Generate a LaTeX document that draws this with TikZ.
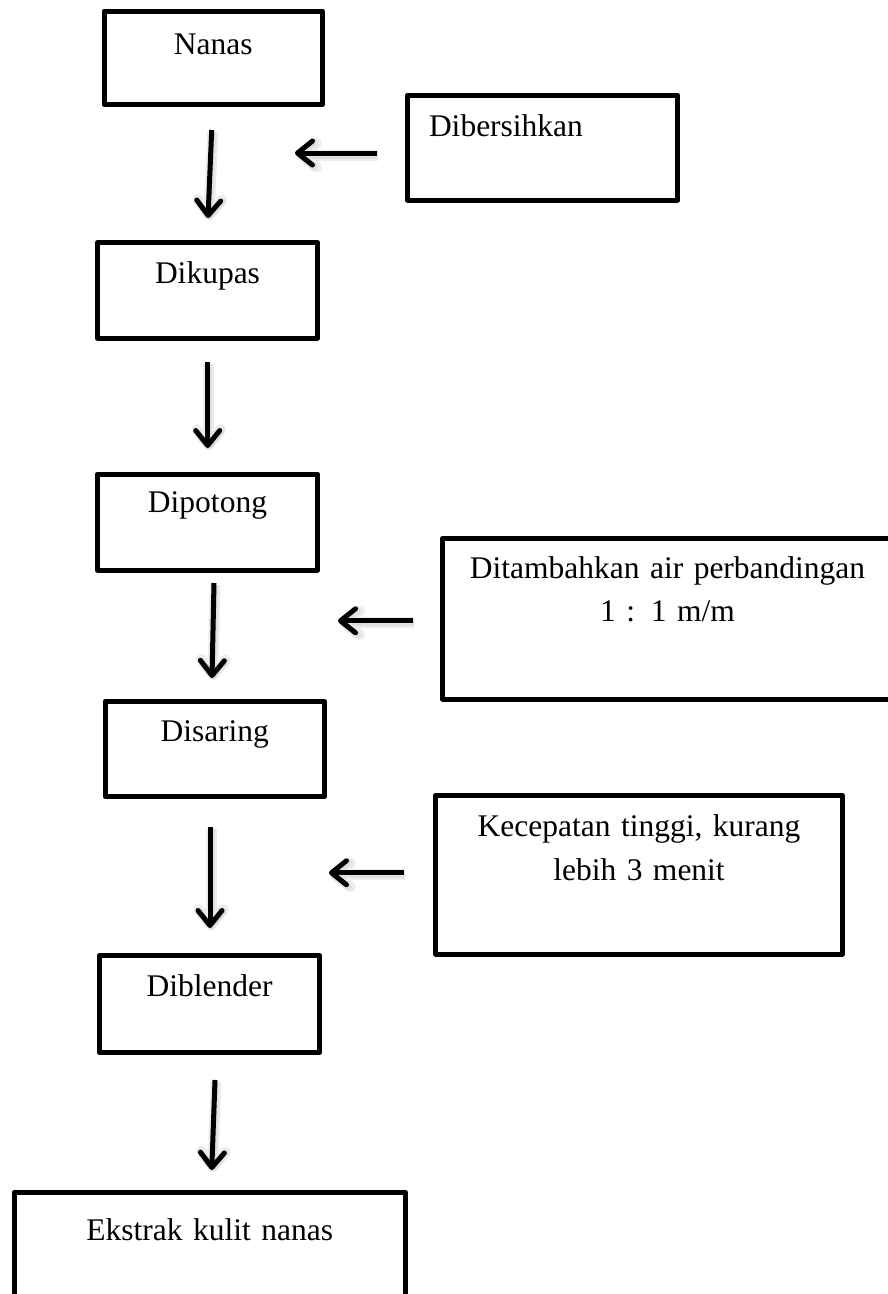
\documentclass[tikz,border=0pt]{standalone}
\usepackage{fontspec}
\setmainfont{Liberation Serif}
\usetikzlibrary{arrows.meta,calc}
\tikzset{
  box/.style={draw=black, line width=5pt, line join=round, inner sep=0pt, outer sep=0pt,
    anchor=north, align=center, font=\fontsize{31.5}{43.4}\selectfont},
  flow/.style={draw=black, line width=5pt, -{Straight Barb[length=15pt,width=24pt,round]},
    preaction={draw=black!7, line width=11pt, transform canvas={xshift=1pt,yshift=-2pt}},
    preaction={draw=black!12, line width=7pt, transform canvas={xshift=1pt,yshift=-2pt}}},
}
\begin{document}
\begin{tikzpicture}[x=1pt,y=-1pt]
\useasboundingbox (0,0) rectangle (887,1294);
\node[box, text width=218.5pt, text height=43.3pt, text depth=50.2pt] (nanas) at (213.25,11) {Nanas};
\node[box, text width=227pt, inner xsep=21.5pt, align=left, text height=41pt, text depth=64pt] (bersih) at (542.5,95) {Dibersihkan};
\node[box, text width=220pt, text height=40.5pt, text depth=55pt] (kupas) at (207.5,242.5) {Dikupas};
\node[box, text width=220pt, text height=38.7pt, text depth=57.3pt] (potong) at (207.5,474) {Dipotong};
\node[box, text width=450pt, text height=39.8pt, text depth=120.7pt] (tambah) at (667.5,538.5) {Ditambahkan air perbandingan\\1 : 1 m/m};
\node[box, text width=219.5pt, text height=40.2pt, text depth=54.8pt] (saring) at (214.75,701.5) {Disaring};
\node[box, text width=407pt, text height=41.2pt, text depth=117.3pt] (cepat) at (639,795.5) {Kecepatan tinggi, kurang\\lebih 3 menit};
\node[box, text width=220pt, text height=41.2pt, text depth=55.8pt] (blender) at (209.5,955.5) {Diblender};
\node[box, text width=391.5pt, text height=48.2pt, text depth=81.8pt] (ekstrak) at (209.75,1192.5) {Ekstrak kulit nanas};

\draw[flow] ($(nanas.south)+(-1.55,25.5)$) -- ($(kupas.north)+(0.5,-24.5)$);
\draw[flow] ($(bersih.west)+(-30.8,5.5)$) -- ++(-81.7,0);
\draw[flow] ($(kupas.south)+(0.2,23.7)$) -- ($(potong.north)+(0.2,-26)$);
\draw[flow] ($(potong.south)+(6.5,13)$) -- ($(saring.north)+(-2.75,-23.5)$);
\draw[flow] ($(tambah.west)+(-29.5,2)$) -- ++(-75,0);
\draw[flow] ($(saring.south)+(-4.75,30.5)$) -- ($(blender.north)+(0.5,-27.5)$);
\draw[flow] ($(cepat.west)+(-31.5,-2)$) -- ++(-75,0);
\draw[flow] ($(blender.south)+(5.5,27.5)$) -- ($(ekstrak.north)+(2,-22.5)$);
\end{tikzpicture}
\end{document}
